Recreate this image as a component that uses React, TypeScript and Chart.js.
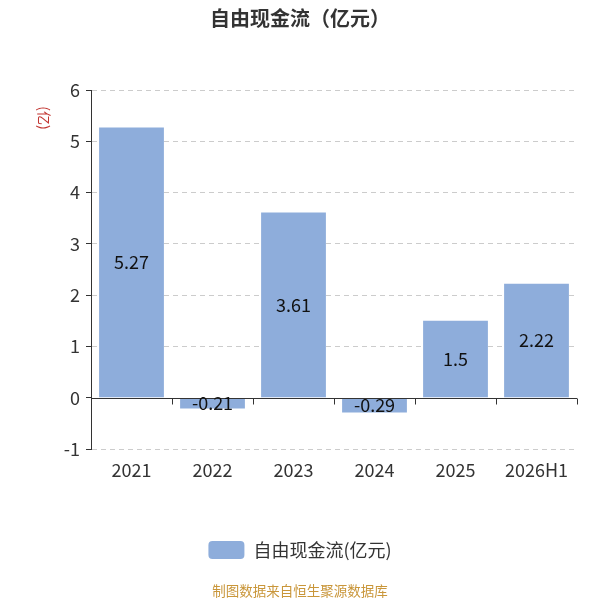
import { useEffect, useRef } from "react";
import Chart from "chart.js/auto";

const categories = ["2021", "2022", "2023", "2024", "2025", "2026H1"];
const freeCashFlow = [5.27, -0.21, 3.61, -0.29, 1.5, 2.22];
const seriesName = "自由现金流(亿元)";
const titleText = "自由现金流（亿元）";
const unitText = "(亿)";
const sourceText = "制图数据来自恒生聚源数据库";

const FONT = "'Noto Sans CJK SC', 'Noto Sans', sans-serif";
const BAR_COLOR = "#8eaddb";

const extrasPlugin = {
  id: "extras",
  afterDraw(chart: any) {
    const { ctx, chartArea, scales } = chart;
    const x = scales.x;
    const y = scales.y;
    const zeroY = Math.round(y.getPixelForValue(0)) + 0.5;

    ctx.save();
    // zero axis line with ticks between categories
    ctx.strokeStyle = "#333";
    ctx.lineWidth = 1;
    ctx.beginPath();
    ctx.moveTo(chartArea.left, zeroY);
    ctx.lineTo(chartArea.right, zeroY);
    for (let i = 0; i <= categories.length; i++) {
      const px = Math.round(x.getPixelForValue(i - 0.5)) + 0.5;
      ctx.moveTo(px, zeroY);
      ctx.lineTo(px, zeroY + 6);
    }
    ctx.stroke();

    // value labels
    ctx.fillStyle = "#111";
    ctx.font = `18px ${FONT}`;
    ctx.textAlign = "center";
    ctx.textBaseline = "middle";
    chart.getDatasetMeta(0).data.forEach((bar: any, i: number) => {
      ctx.fillText(String(freeCashFlow[i]), bar.x, (bar.y + bar.base) / 2);
    });

    // title
    ctx.fillStyle = "#333";
    ctx.font = `bold 20px ${FONT}`;
    ctx.fillText(titleText, 300, 18);

    // unit label
    ctx.save();
    ctx.translate(44, 118);
    ctx.rotate(Math.PI / 2);
    ctx.fillStyle = "#c23531";
    ctx.font = `14px ${FONT}`;
    ctx.fillText(unitText, 0, 0);
    ctx.restore();

    // source
    ctx.fillStyle = "#c9963a";
    ctx.font = `13.5px ${FONT}`;
    ctx.fillText(sourceText, 300, 591);
    ctx.restore();
  },
};

export default function App() {
  const chartRef = useRef<HTMLCanvasElement>(null);

  useEffect(() => {
    document.body.style.margin = "0";
    if (!chartRef.current) return;
    const chart = new Chart(chartRef.current, {
      type: "bar",
      data: {
        labels: categories,
        datasets: [
          {
            label: seriesName,
            data: freeCashFlow,
            backgroundColor: BAR_COLOR,
            borderWidth: 0,
            barPercentage: 0.8,
            categoryPercentage: 1,
          },
        ],
      },
      plugins: [extrasPlugin],
      options: {
        animation: false,
        responsive: false,
        layout: { padding: { top: 90, right: 23, bottom: 31, left: 23 } },
        scales: {
          x: {
            grid: { display: false },
            border: { display: false },
            ticks: { color: "#333", font: { size: 18, family: FONT }, padding: 2 },
            afterFit: (scale: any) => {
              scale.height = 92;
            },
          },
          y: {
            min: -1,
            max: 6,
            ticks: {
              stepSize: 1,
              color: "#333",
              font: { size: 18, family: FONT },
              padding: 6,
            },
            border: { display: true, color: "#333", width: 1, dash: [5, 4] },
            grid: {
              color: (c: any) => (c.tick && c.tick.value === 0 ? "rgba(0,0,0,0)" : "#ccc"),
              drawTicks: true,
              tickLength: 5,
              tickColor: "#333",
              tickBorderDash: [],
            },
            afterFit: (scale: any) => {
              scale.width = 68;
            },
          },
        },
        plugins: {
          title: { display: false },
          tooltip: { enabled: false },
          legend: {
            position: "bottom",
            labels: {
              color: "#333",
              font: { size: 18, family: FONT },
              boxWidth: 36,
              boxHeight: 18,
              useBorderRadius: true,
              borderRadius: 4,
              padding: 0,
            },
          },
        },
      },
    });
    return () => {
      chart.destroy();
    };
  }, []);

  return (
    <div style={{ width: 600, height: 600 }}>
      <canvas ref={chartRef} width={600} height={600} />
    </div>
  );
}
